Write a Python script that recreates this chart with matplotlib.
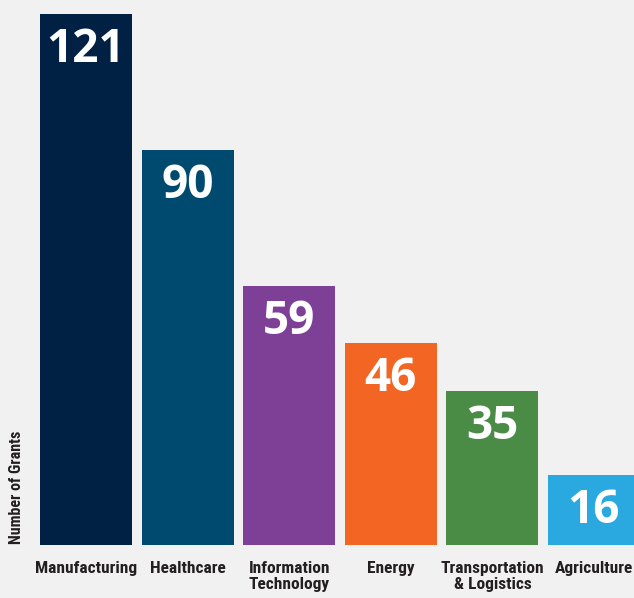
import matplotlib
matplotlib.use("Agg")
import matplotlib.pyplot as plt
from matplotlib import font_manager

categories = ["Manufacturing", "Healthcare", "Information\nTechnology", "Energy",
              "Transportation\n& Logistics", "Agriculture"]
values = [121, 90, 59, 46, 35, 16]
colors = ["#002044", "#004a6f", "#7e3f96", "#f26522", "#4a8c45", "#29a9e0"]
ylabel = "Number of Grants"

names = {f.name for f in font_manager.fontManager.ttflist}
narrow = [n for n in ["Liberation Sans Narrow", "Roboto Condensed", "Open Sans Condensed"] if n in names]
label_family = narrow + ["DejaVu Sans"]

bg = "#f1f1f1"
fig = plt.figure(figsize=(6.34, 5.98), dpi=100, facecolor=bg)
ax = fig.add_axes([0, 53 / 598, 1, 545 / 598])
ax.set_facecolor(bg)

x = list(range(len(values)))
ax.bar(x, values, width=0.905, color=colors, zorder=2)
ax.set_xlim(-86 / 101.6, 548 / 101.6)
ax.set_ylim(0, 545 / 4.388)

for xi, v in zip(x, values):
    ax.annotate(str(v), (xi, v), xytext=(0, -12), textcoords="offset pixels",
                ha="center", va="top", color="white", fontsize=33,
                fontweight="bold", family=["Open Sans", "DejaVu Sans"])

for xi, c in zip(x, categories):
    ax.annotate(c, (xi, 0), xytext=(0, -16), textcoords="offset pixels",
                ha="center", va="top", color="#231f20", fontsize=12.5,
                fontweight="bold", family=label_family, linespacing=1.1,
                annotation_clip=False)

fig.text(17 / 634, 1 - 487 / 598, ylabel, rotation=90, ha="center", va="center",
         fontsize=11.5, fontweight="bold", color="#231f20", family=label_family)

for s in ax.spines.values():
    s.set_visible(False)
ax.set_xticks([])
ax.set_yticks([])

fig.savefig("out.png", dpi=100, facecolor=bg)
